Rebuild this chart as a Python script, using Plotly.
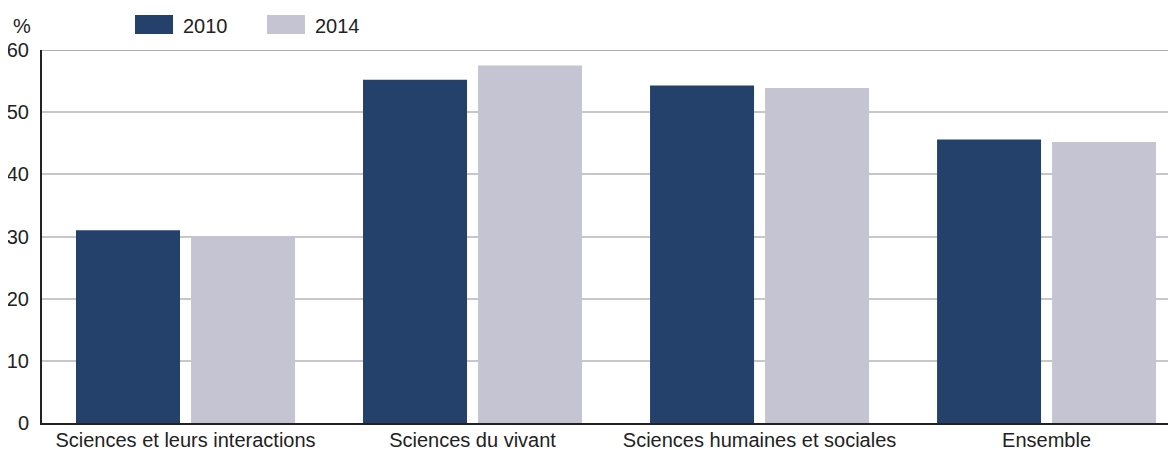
import plotly.graph_objects as go

categories = ["Sciences et leurs interactions", "Sciences du vivant",
              "Sciences humaines et sociales", "Ensemble"]
values_2010 = [31.0, 55.2, 54.3, 45.6]
values_2014 = [30.1, 57.5, 53.9, 45.2]
series_names = ["2010", "2014"]
y_ticks = [0, 10, 20, 30, 40, 50, 60]

C2010 = "#24416B"
C2014 = "#C5C4D2"
FONT = "Liberation Sans, Arial, sans-serif"
TXT = "#222222"

# page has an 8px body margin; figure sized so the plot lands where the reference has it
OFF = 8
W, H = 1168, 442
ML, MR, MT, MB = 34, 0, 42, 27
PW, PH = W - ML - MR, H - MT - MB

def px_x(px):  # screen px -> paper
    return (px - OFF - ML) / PW

def px_y(py):
    return (H - MB - (py - OFF)) / PH

fig = go.Figure()
fig.add_trace(go.Bar(x=categories, y=values_2010, name=series_names[0],
                     marker=dict(color=C2010, line=dict(width=0)), showlegend=False))
fig.add_trace(go.Bar(x=categories, y=values_2014, name=series_names[1],
                     marker=dict(color=C2014, line=dict(width=0)), showlegend=False))

shapes = []
annotations = []
# top gridline (darker)
shapes.append(dict(type="line", xref="paper", yref="y", x0=0, x1=1, y0=60, y1=60,
                   line=dict(color="#8D96A2", width=1.5), layer="below"))
# manual legend
for name, col, sx0 in [(series_names[0], C2010, 135), (series_names[1], C2014, 267)]:
    shapes.append(dict(type="rect", xref="paper", yref="paper",
                       x0=px_x(sx0), x1=px_x(sx0 + 38), y0=px_y(34), y1=px_y(15),
                       fillcolor=col, line=dict(width=0)))
    annotations.append(dict(text=name, xref="paper", yref="paper", x=px_x(sx0 + 46),
                            y=px_y(26), xanchor="left", yanchor="middle", showarrow=False,
                            font=dict(family=FONT, size=20, color=TXT)))
annotations.append(dict(text="%", xref="paper", yref="paper", x=px_x(22), y=px_y(26),
                        xanchor="center", yanchor="middle", showarrow=False,
                        font=dict(family=FONT, size=20, color=TXT)))

fig.update_layout(
    width=W, height=H,
    margin=dict(l=ML, r=MR, t=MT, b=MB, pad=0, autoexpand=False),
    paper_bgcolor="white", plot_bgcolor="white",
    barmode="group", bargap=0.1986, bargroupgap=0.0957,
    shapes=shapes, annotations=annotations,
    xaxis=dict(type="category", range=[-0.5, 3.451], showgrid=False, automargin=False,
               showline=True, linecolor="#222222", linewidth=2,
               ticks="", ticklabelstandoff=-2,
               tickfont=dict(family=FONT, size=20, color=TXT),
               fixedrange=True),
    yaxis=dict(range=[0, 60], tickvals=y_ticks, showgrid=True, gridcolor="#C6C6CC",
               gridwidth=1.5, zeroline=False, showline=True, linecolor="#222222",
               linewidth=2, ticks="", ticklabelstandoff=7, automargin=False,
               tickfont=dict(family=FONT, size=20, color=TXT), fixedrange=True),
)

fig.write_html("out.html")
